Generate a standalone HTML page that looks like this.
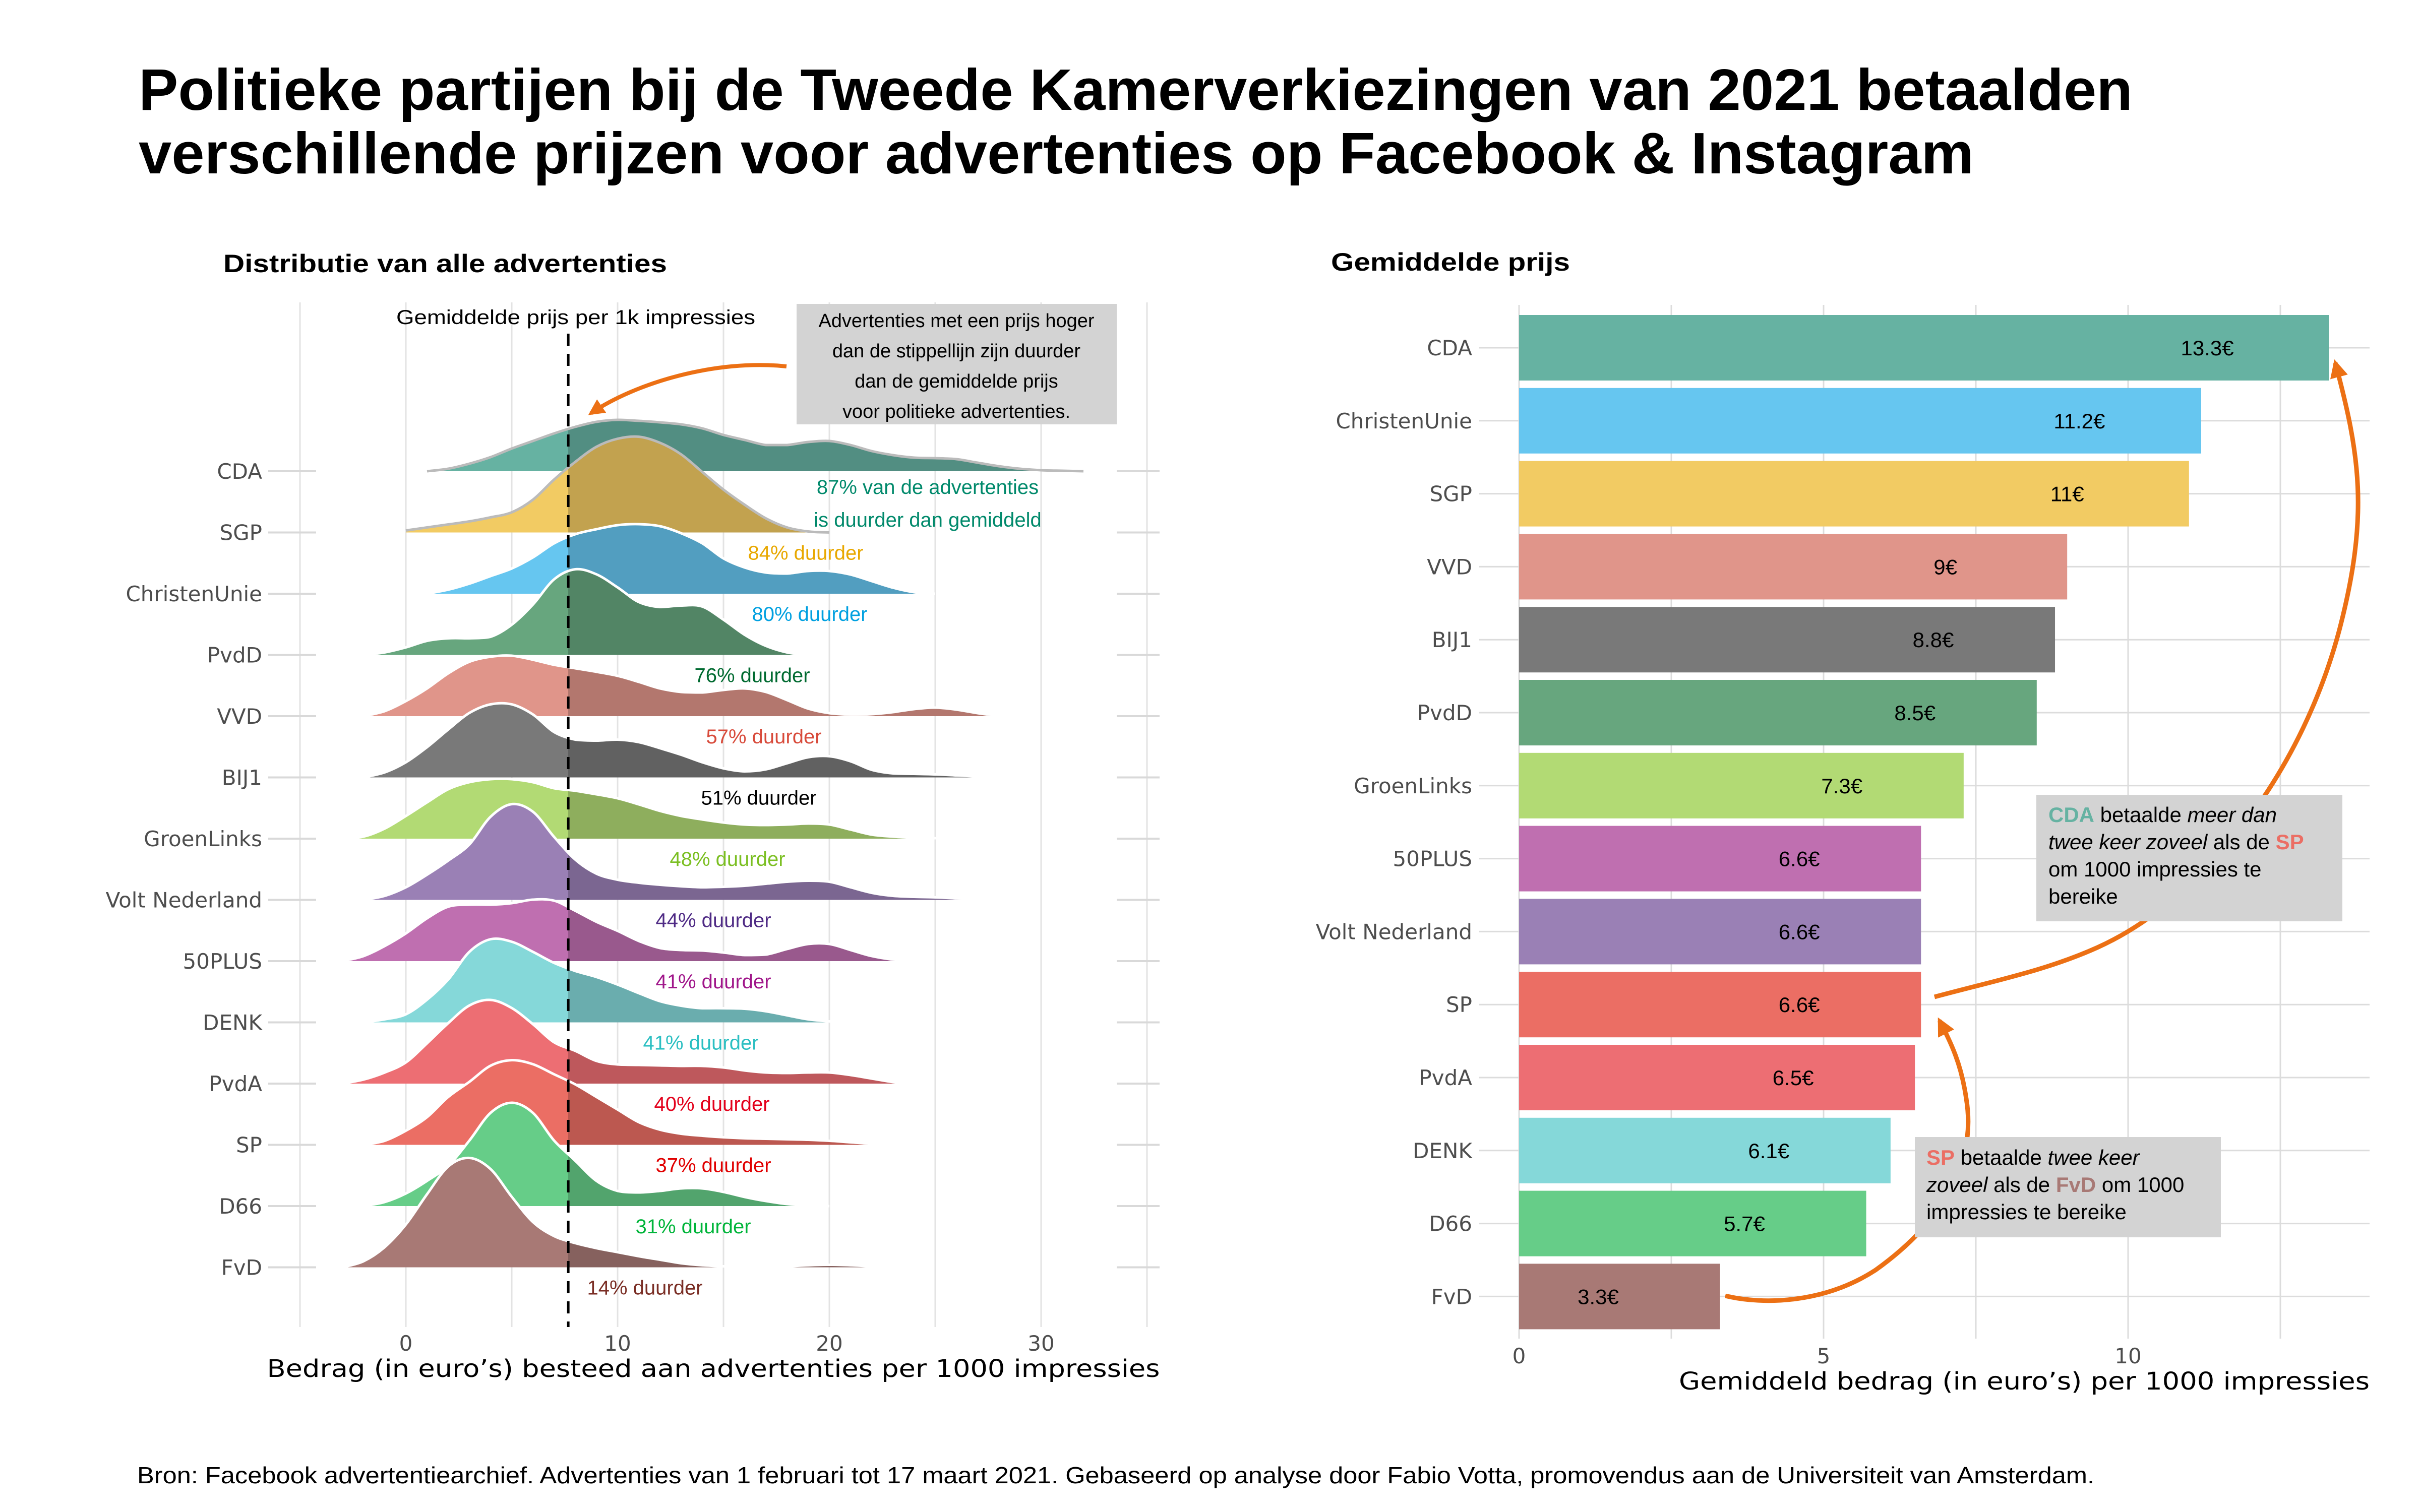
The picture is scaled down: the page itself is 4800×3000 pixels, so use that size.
<!DOCTYPE html>
<html><head><meta charset="utf-8">
<style>
html,body{margin:0;padding:0;background:#fff;}
svg{display:block;}
text{font-family:"Liberation Sans",sans-serif;}
.dv{font-family:"DejaVu Sans","Liberation Sans",sans-serif;}
</style></head>
<body>
<svg id="chart" width="4800" height="3000" viewBox="0 0 4800 3000" xmlns="http://www.w3.org/2000/svg">
<defs>
<clipPath id="rightOfMean"><rect x="1127" y="0" width="2000" height="3000"/></clipPath>
<marker id="arrowhead" viewBox="0 0 10 10" refX="8" refY="5" markerWidth="4" markerHeight="4" orient="auto-start-reverse"><path d="M0,0 L10,5 L0,10 z" fill="#ec7014"/></marker>
</defs>
<text x="275" y="218" font-size="116" font-weight="bold" textLength="3955" lengthAdjust="spacingAndGlyphs">Politieke partijen bij de Tweede Kamerverkiezingen van 2021 betaalden</text>
<text x="275" y="344" font-size="116" font-weight="bold" textLength="3640" lengthAdjust="spacingAndGlyphs">verschillende prijzen voor advertenties op Facebook &amp; Instagram</text>

<text x="443" y="540" font-size="50" font-weight="bold" textLength="880" lengthAdjust="spacingAndGlyphs">Distributie van alle advertenties</text>
<text x="2640" y="537" font-size="50" font-weight="bold" textLength="474" lengthAdjust="spacingAndGlyphs">Gemiddelde prijs</text>

<g id="left"></g>
<g id="right"></g>

<text x="272" y="2943" font-size="46" textLength="3882" lengthAdjust="spacingAndGlyphs">Bron: Facebook advertentiearchief. Advertenties van 1 februari tot 17 maart 2021. Gebaseerd op analyse door Fabio Votta, promovendus aan de Universiteit van Amsterdam.</text>
</svg>
<script>
// ---- data ----
const ridgeParties = ["CDA","SGP","ChristenUnie","PvdD","VVD","BIJ1","GroenLinks","Volt Nederland","50PLUS","DENK","PvdA","SP","D66","FvD"];
const ridgeColors = ["#66b2a2","#f2cb63","#66c6f0","#67a67e","#e0958a","#797979","#b2da74","#9a80b5","#bf6fb0","#85d8d9","#ed6e73","#eb6e64","#66cd88","#a87975"];
const densityStart = [1,0,1,-2,-2,-2,-3,-2,-3,-2,-3,-2,-2,-3];
const densityCDA = [0,5,15,28,45,60,75,88,98,102,100,97,93,85,72,62,52,52,58,60,52,40,32,27,26,24,17,10,5,2,1,0];
const densitySGP = [4,10,16,22,30,40,65,105,140,170,186,190,178,155,120,85,55,28,10,2,0];
const densityCU = [0,8,20,35,50,72,100,118,128,136,138,134,120,100,70,52,42,40,45,45,38,25,12,3,0];
const densityPvdD = [0,5,15,28,33,33,36,60,100,150,170,160,134,105,95,98,96,70,40,18,5,0];
const densityVVD = [0,10,30,55,85,108,118,120,112,102,95,88,80,68,55,48,47,52,55,48,32,15,6,3,4,8,14,17,13,6,1,0];
const densityBIJ1 = [0,10,30,60,95,128,145,145,125,90,75,73,75,70,58,45,30,18,12,16,28,40,42,32,15,8,7,6,4,2,0];
const densityGL = [0,4,20,45,72,98,112,118,118,112,100,95,88,80,68,55,45,38,32,28,27,28,30,28,18,8,4,2,1,1,0];
const densityVolt = [0,8,25,50,78,110,165,190,175,125,80,52,40,34,30,27,25,26,28,32,36,38,36,25,14,8,6,5,3,1,0];
const density50PLUS = [0,10,30,55,85,108,112,112,115,122,120,100,78,60,40,26,22,21,17,12,13,24,34,34,22,10,3,0];
const densityDENK = [0,6,16,45,85,140,165,160,140,118,102,90,75,58,42,33,28,28,27,22,14,6,2,0];
const densityPvdA = [0,8,22,42,80,120,155,166,150,118,82,65,45,38,37,36,35,35,32,26,22,21,22,22,17,10,3,0];
const densitySP = [0,8,28,55,95,125,157,168,160,140,120,95,70,45,30,22,18,15,13,12,11,10,8,5,2,0];
const densityD66 = [0,8,25,50,80,130,185,205,185,130,90,50,30,27,30,35,35,28,18,10,4,1,0];
const densityFvD = [0,12,40,85,145,200,217,195,140,90,62,48,38,30,22,15,8,4,2,1,1,2,4,5,4,2,1,0];
const densities = [densityCDA,densitySGP,densityCU,densityPvdD,densityVVD,densityBIJ1,densityGL,densityVolt,density50PLUS,densityDENK,densityPvdA,densitySP,densityD66,densityFvD];
const pctLabels = ["87%","84% duurder","80% duurder","76% duurder","57% duurder","51% duurder","48% duurder","44% duurder","41% duurder","41% duurder","40% duurder","37% duurder","31% duurder","14% duurder"];
const pctColors = ["#00896b","#e8a800","#00a0e0","#006a30","#d84a3a","#000000","#7bbf22","#4f2b85","#a0168a","#2bbfc2","#e3001b","#e00000","#00b53a","#7a2e25"];
const meanPrice = 7.67;
const xTicksLeft = [0,10,20,30];

const barParties = ["CDA","ChristenUnie","SGP","VVD","BIJ1","PvdD","GroenLinks","50PLUS","Volt Nederland","SP","PvdA","DENK","D66","FvD"];
const barValues = [13.3,11.2,11.0,9.0,8.8,8.5,7.3,6.6,6.6,6.6,6.5,6.1,5.7,3.3];
const barLabels = ["13.3€","11.2€","11€","9€","8.8€","8.5€","7.3€","6.6€","6.6€","6.6€","6.5€","6.1€","5.7€","3.3€"];
const barColors = ["#66b2a2","#66c6f0","#f2cb63","#e0958a","#797979","#67a67e","#b2da74","#bf6fb0","#9a80b5","#eb6e64","#ed6e73","#85d8d9","#66cd88","#a87975"];
const xTicksRight = [0,5,10];

// ---- helpers ----
const NS = "http://www.w3.org/2000/svg";
function mk(tag, attrs, parent){const e=document.createElementNS(NS,tag);for(const k in attrs)e.setAttribute(k,attrs[k]);parent.appendChild(e);return e;}
function darken(hex,f){const n=parseInt(hex.slice(1),16);const r=Math.round(((n>>16)&255)*f),g=Math.round(((n>>8)&255)*f),b=Math.round((n&255)*f);return "rgb("+r+","+g+","+b+")";}
function smoothPath(pts){let d="M"+pts[0][0]+","+pts[0][1];for(let i=0;i<pts.length-1;i++){const p0=pts[Math.max(0,i-1)],p1=pts[i],p2=pts[i+1],p3=pts[Math.min(pts.length-1,i+2)];const c1x=p1[0]+(p2[0]-p0[0])/6,c1y=p1[1]+(p2[1]-p0[1])/6,c2x=p2[0]-(p3[0]-p1[0])/6,c2y=p2[1]-(p3[1]-p1[1])/6;d+=" C"+c1x.toFixed(1)+","+Math.min(c1y,Math.max(p1[1],p2[1])).toFixed(1)+" "+c2x.toFixed(1)+","+Math.min(c2y,Math.max(p1[1],p2[1])).toFixed(1)+" "+p2[0].toFixed(1)+","+p2[1].toFixed(1);}return d;}

// ---- left ridgeline panel ----
const L = document.getElementById("left");
const xL = u => 805 + u*42;
const rowY = i => 935 + i*121.5;
for(let g=-5; g<=35; g+=5){
  const gl = mk("line",{x1:xL(g),x2:xL(g),y1:600,y2:2633,stroke:"#e3e3e3","stroke-width":3},L);
  
  
}
ridgeParties.forEach((p,i)=>{
  const y=rowY(i);
  const a=mk("line",{x1:532,x2:627,y1:y,y2:y,stroke:"#d9d9d9","stroke-width":4},L);
  
  
  const b=mk("line",{x1:2215,x2:2300,y1:y,y2:y,stroke:"#d9d9d9","stroke-width":4},L);
  
  
  const t=mk("text",{x:520,y:y+15,"font-size":42,"text-anchor":"end",fill:"#4d4d4d",class:"dv"},L);
  t.textContent=p;
  
  
});
ridgeParties.forEach((p,i)=>{
  const base=rowY(i), vals=densities[i], s=densityStart[i];
  const pts=vals.map((h,k)=>[xL(s+k), base-h]);
  const top=smoothPath(pts);
  const area=top+" L"+pts[pts.length-1][0]+","+base+" L"+pts[0][0]+","+base+" Z";
  const grp=mk("g",{},L);
  
  
  mk("path",{d:area,fill:ridgeColors[i]},grp);
  mk("path",{d:area,fill:darken(ridgeColors[i],0.8),"clip-path":"url(#rightOfMean)"},grp);
  mk("path",{d:top,fill:"none",stroke:i<2?"#bbbbbb":"#ffffff","stroke-width":5},grp);
});
// mean line
const ml=mk("line",{x1:xL(meanPrice),x2:xL(meanPrice),y1:662,y2:2633,stroke:"#000","stroke-width":5,"stroke-dasharray":"24,16"},L);


const mlt=mk("text",{x:1142,y:643,"font-size":40,"text-anchor":"middle",textLength:712,lengthAdjust:"spacingAndGlyphs"},L);
mlt.textContent="Gemiddelde prijs per 1k impressies";


// percent labels
const labelCX=[1840,1598,1606,1492,1515,1505,1443,1415,1415,1390,1412,1415,1375,1279];
pctLabels.forEach((s,i)=>{
  if(i===0){
    const t1=mk("text",{x:labelCX[0],y:rowY(0)+45,"font-size":40,"text-anchor":"middle",fill:pctColors[0]},L);
    t1.textContent="87% van de advertenties";
    
    
    const t2=mk("text",{x:labelCX[0],y:rowY(0)+110,"font-size":40,"text-anchor":"middle",fill:pctColors[0]},L);
    t2.textContent="is duurder dan gemiddeld";
    
    
    return;
  }
  const t=mk("text",{x:labelCX[i],y:rowY(i)+54,"font-size":40,"text-anchor":"middle",fill:pctColors[i]},L);
  t.textContent=s;
  
  
});
xTicksLeft.forEach(v=>{
  const t=mk("text",{x:xL(v),y:2680,"font-size":42,"text-anchor":"middle",fill:"#4d4d4d",class:"dv"},L);
  t.textContent=v;
  
  
});
const lxt=mk("text",{x:1415,y:2732,"font-size":48,"text-anchor":"middle",class:"dv",textLength:1771,lengthAdjust:"spacingAndGlyphs"},L);
lxt.textContent="Bedrag (in euro’s) besteed aan advertenties per 1000 impressies";


// annotation box left
const ab=mk("rect",{x:1580,y:603,width:635,height:239,fill:"#d3d3d3"},L);


["Advertenties met een prijs hoger","dan de stippellijn zijn duurder","dan de gemiddelde prijs","voor politieke advertenties."].forEach((s,k)=>{
  const t=mk("text",{x:1897,y:649+k*60,"font-size":38,"text-anchor":"middle"},L);
  t.textContent=s;
  
  
});
const aa=mk("path",{d:"M1560,727 C1420,712 1260,760 1172,820",fill:"none",stroke:"#ec7014","stroke-width":8,"marker-end":"url(#arrowhead)"},L);



// ---- right bar panel ----
const R = document.getElementById("right");
const xR = v => 3013 + v*120.8;
const yR = i => 690 + i*144.8;
for(let g=0; g<=13.5; g+=2.5){
  const gl=mk("line",{x1:xR(g),x2:xR(g),y1:605,y2:2656,stroke:"#dcdcdc","stroke-width":3},R);
  
  
}
barParties.forEach((p,i)=>{
  const gl=mk("line",{x1:2934,x2:4700,y1:yR(i),y2:yR(i),stroke:"#dcdcdc","stroke-width":3},R);
  
  
});
barParties.forEach((p,i)=>{
  const r=mk("rect",{x:xR(0),y:yR(i)-65,width:xR(barValues[i])-xR(0),height:130,fill:barColors[i]},R);
  
  
  const t=mk("text",{x:xR(barValues[i]-2),y:yR(i)+15,"font-size":42,"text-anchor":"middle"},R);
  t.textContent=barLabels[i];
  
  
  const c=mk("text",{x:2920,y:yR(i)+15,"font-size":42,"text-anchor":"end",fill:"#4d4d4d",class:"dv"},R);
  c.textContent=p;
  
  
});
xTicksRight.forEach(v=>{
  const t=mk("text",{x:xR(v),y:2705,"font-size":42,"text-anchor":"middle",fill:"#4d4d4d",class:"dv"},R);
  t.textContent=v;
  
  
});
const rxt=mk("text",{x:4700,y:2757,"font-size":48,"text-anchor":"end",class:"dv",textLength:1370,lengthAdjust:"spacingAndGlyphs"},R);
rxt.textContent="Gemiddeld bedrag (in euro’s) per 1000 impressies";


// arrows
const a1=mk("path",{d:"M3837,1978 C3960,1945 4060,1925 4160,1880 C4360,1790 4560,1550 4640,1250 C4700,1020 4680,900 4632,720",fill:"none",stroke:"#ec7014","stroke-width":9,"marker-end":"url(#arrowhead)"},R);


const a2=mk("path",{d:"M3422,2571 C3500,2590 3620,2585 3720,2520 C3860,2420 3920,2300 3900,2180 C3890,2110 3870,2070 3847,2025",fill:"none",stroke:"#ec7014","stroke-width":9,"marker-end":"url(#arrowhead)"},R);


// annotation boxes
const b1=mk("rect",{x:4039,y:1577,width:607,height:251,fill:"#d3d3d3"},R);


const b2=mk("rect",{x:3798,y:2256,width:607,height:199,fill:"#d3d3d3"},R);


</script>
<svg width="0" height="0" style="position:absolute;left:0;top:0"></svg>
<div style="position:absolute;left:0;top:0;width:4800px;height:3000px;pointer-events:none;font-family:'Liberation Sans',sans-serif;font-size:42px;line-height:54px;">
  <div style="position:absolute;left:4063px;top:1590px;width:580px;"><b style="color:#66b2a2">CDA</b> betaalde <i>meer dan</i><br><i>twee keer zoveel</i> als de <b style="color:#eb6e64">SP</b><br>om 1000 impressies te<br>bereike</div>
  <div style="position:absolute;left:3821px;top:2270px;width:580px;"><b style="color:#eb6e64">SP</b> betaalde <i>twee keer</i><br><i>zoveel</i> als de <b style="color:#a87975">FvD</b> om 1000<br>impressies te bereike</div>
</div>
</body></html>
